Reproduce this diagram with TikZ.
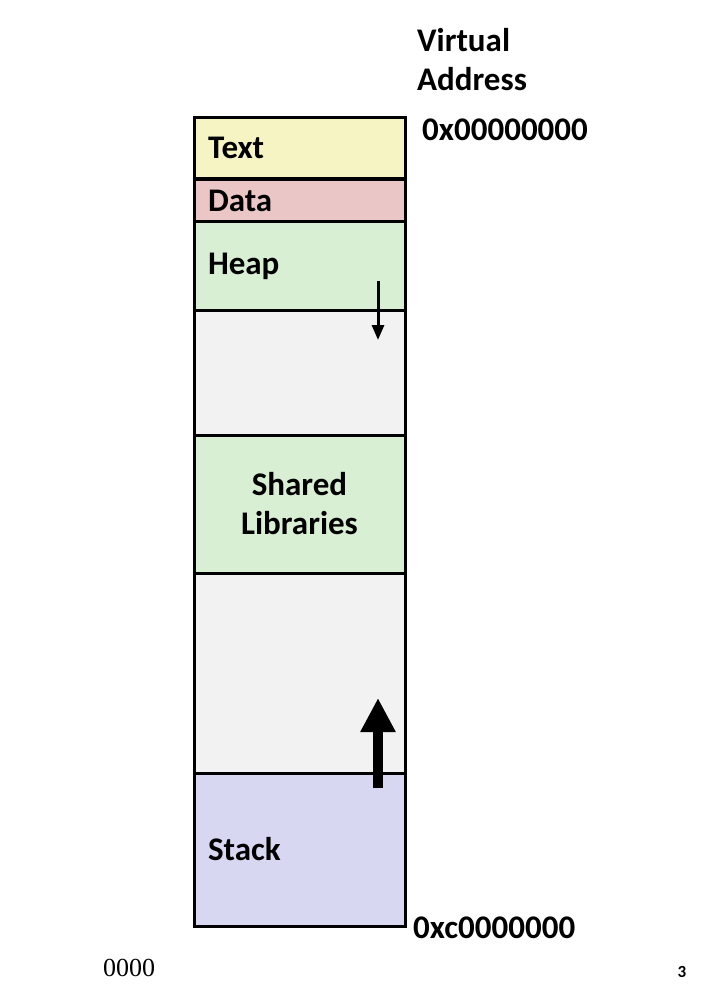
\documentclass[tikz,border=0pt]{standalone}
\usepackage{fontspec}
\setmainfont{Carlito}
\newfontfamily\timesfont{Liberation Serif}
\usetikzlibrary{arrows.meta}
\definecolor{textcol}{RGB}{247,244,196}
\definecolor{datacol}{RGB}{235,198,198}
\definecolor{heapcol}{RGB}{217,239,212}
\definecolor{freecol}{RGB}{242,242,242}
\definecolor{stackcol}{RGB}{216,215,241}
\tikzset{
  seg/.style={draw, line width=3pt, minimum width=211pt, inner sep=0pt, text width=183pt, align=left, font=\fontsize{33}{39}\selectfont\bfseries},
  addr/.style={anchor=west, inner sep=0pt, font=\fontsize{33}{39}\selectfont\bfseries, align=left}
}
\begin{document}
\begin{tikzpicture}[x=1pt,y=-1pt]
\useasboundingbox (0,0) rectangle (704,984);
\node[seg, fill=textcol, minimum height=61pt] (text) at (299.5,148) {Text};
\node[seg, fill=datacol, minimum height=42pt] (data) at (299.5,200.5) {Data};
\node[seg, fill=heapcol, minimum height=88pt] (heap) at (299.5,266) {Heap};
\node[seg, fill=freecol, minimum height=125pt] (free1) at (299.5,372.5) {};
\node[seg, fill=heapcol, minimum height=138pt, align=center] (shlib) at (299.5,504) {Shared\\Libraries};
\node[seg, fill=freecol, minimum height=200pt] (free2) at (299.5,673) {};
\node[seg, fill=stackcol, minimum height=153pt] (stack) at (299.5,849.5) {Stack};

\node[addr] (virt) at (417,60) {Virtual\\Address};
\node[addr] (low) at (422,130) {0x00000000};
\node[addr] (high) at (413,928) {0xc0000000};
\node[anchor=west, inner sep=0pt, font=\timesfont\fontsize{26}{30}\selectfont] (zeros) at (103,968) {0000};
\node[inner sep=0pt, font=\fontsize{17}{20}\selectfont\bfseries] (page) at (682,972) {3};

\coordinate (hs) at (378,281);
\coordinate (he) at (378,340);
\coordinate (ss) at (378,788);
\coordinate (se) at (378,698);
\draw[line width=3pt, -{Triangle[width=12pt, length=15pt]}] (hs) -- (he);
\draw[line width=10pt, -{Triangle[width=33pt, length=34pt]}] (ss) -- (se);
\end{tikzpicture}
\end{document}
